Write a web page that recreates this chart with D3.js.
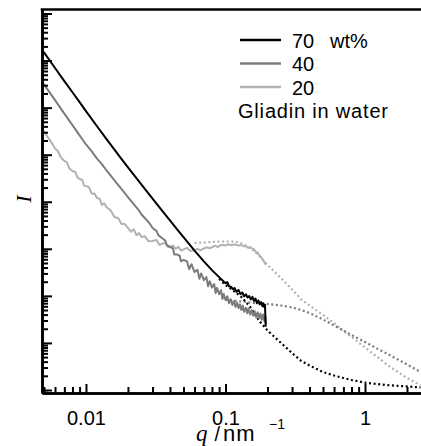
<!DOCTYPE html>
<html>
<head>
<meta charset="utf-8">
<script src="https://cdn.jsdelivr.net/npm/d3@7/dist/d3.min.js"></script>
<style>
  body { margin: 0; background: #fff; }
  text { font-family: "Liberation Sans", Arial, sans-serif; }
</style>
</head>
<body>
<svg width="421" height="446"></svg>
<script>
// scattering curves: [q in nm^-1, I in arbitrary units]
var solid70 = [[0.0049,1.55e7],[0.005,1.49e7],[0.006,6.95e6],[0.007,3.65e6],[0.008,2.12e6],[0.009,1.31e6],
  [0.01,8.41e5],[0.012,4.02e5],[0.014,2.17e5],[0.016,1.28e5],[0.018,8.07e4],[0.02,5.38e4],[0.025,2.31e4],
  [0.03,1.16e4],[0.035,6.58e3],[0.04,4.01e3],[0.045,2.60e3],[0.05,1.77e3],[0.06,918],[0.07,540],[0.08,352],
  [0.09,250],[0.1,186],[0.103,196],[0.106,160],[0.11,154],[0.113,138],[0.116,147],[0.12,122],[0.124,134],
  [0.128,109],[0.132,118],[0.136,98],[0.14,108],[0.144,92],[0.148,99],[0.152,84],[0.156,95],[0.16,78],
  [0.164,88],[0.168,70],[0.172,80],[0.176,66],[0.18,74],[0.184,60],[0.187,70],[0.19,57],[0.192,64],[0.194,22]];

var solid40 = [[0.0049,3.34e6],[0.005,3.12e6],[0.006,1.44e6],[0.007,7.47e5],[0.008,4.24e5],[0.009,2.58e5],
  [0.01,1.65e5],[0.011,1.18e5],[0.012,8.24e4],[0.013,6.3e4],[0.014,4.67e4],[0.016,2.84e4],[0.018,1.85e4],
  [0.02,1.26e4],[0.022,8.9e3],[0.024,6.5e3],[0.025,5.36e3],[0.027,4.2e3],[0.029,3.25e3],[0.03,2.77e3],
  [0.032,2.4e3],[0.033,1.95e3],[0.035,1.7e3],[0.037,1.5e3],[0.038,1.2e3],[0.04,1.1e3],[0.042,1.02e3],
  [0.043,760],[0.045,760],[0.047,710],[0.048,540],[0.05,580],[0.053,540],[0.055,370],[0.057,470],[0.06,320],
  [0.063,360],[0.065,230],[0.067,300],[0.07,215],[0.073,250],[0.075,160],[0.077,205],[0.08,150],[0.083,178],
  [0.085,115],[0.087,148],[0.09,108],[0.093,132],[0.095,86],[0.097,110],[0.1,82],[0.103,98],[0.106,70],
  [0.109,85],[0.112,64],[0.115,78],[0.118,58],[0.121,72],[0.124,55],[0.127,66],[0.13,50],[0.133,62],
  [0.136,46],[0.14,56],[0.143,43],[0.146,54],[0.15,40],[0.154,50],[0.158,38],[0.162,47],[0.166,35],
  [0.17,45],[0.174,33],[0.178,42],[0.182,31],[0.186,40],[0.19,29],[0.193,37],[0.196,25]];

var solid20 = [[0.0049,3.35e5],[0.005,3.11e5],[0.0052,2.6e5],[0.0055,2.05e5],[0.0058,1.62e5],[0.006,1.36e5],
  [0.0063,1.18e5],[0.0066,8.8e4],[0.007,7.35e4],[0.0073,6.9e4],[0.0076,5.1e4],[0.008,4.5e4],[0.0084,4.3e4],
  [0.0087,3.25e4],[0.009,3.05e4],[0.0094,2.9e4],[0.0097,2.2e4],[0.01,2.16e4],[0.0105,2.05e4],[0.011,1.48e4],
  [0.0115,1.5e4],[0.012,1.2e4],[0.0125,1.16e4],[0.013,8.6e3],[0.0135,9.3e3],[0.014,7.74e3],[0.015,6.6e3],
  [0.016,4.74e3],[0.017,4.5e3],[0.018,3.37e3],[0.019,3.35e3],[0.02,2.77e3],[0.021,2.3e3],[0.022,2.6e3],
  [0.023,1.95e3],[0.024,2.15e3],[0.025,1.78e3],[0.0265,1.85e3],[0.028,1.45e3],[0.03,1.47e3],[0.032,1.55e3],
  [0.0335,1.22e3],[0.035,1.27e3],[0.037,1.35e3],[0.0385,1.1e3],[0.04,1.09e3],[0.042,1.18e3],[0.044,1.0e3],
  [0.046,1.1e3],[0.048,920],[0.05,968],[0.053,1.05e3],[0.056,900],[0.06,944],[0.063,1.0e3],[0.066,930],
  [0.07,1.02e3],[0.074,1.08e3],[0.077,1.02e3],[0.08,1.09e3],[0.085,1.16e3],[0.088,1.08e3],[0.09,1.15e3],
  [0.095,1.22e3],[0.1,1.18e3],[0.105,1.25e3],[0.11,1.19e3],[0.115,1.24e3],[0.12,1.2e3],[0.125,1.17e3],
  [0.13,1.21e3],[0.135,1.13e3],[0.14,1.15e3],[0.145,1.05e3],[0.15,1.07e3],[0.155,1.02e3],[0.16,968],
  [0.165,860],[0.17,835],[0.175,720],[0.18,670],[0.185,590],[0.19,525],[0.195,453]];

// dotted curves (fits) at higher q
var dotted70 = [[0.09,229],[0.1,170],[0.11,140],[0.12,115],[0.13,94.6],[0.14,74.1],[0.15,58.1],[0.16,43.3],
  [0.17,33.1],[0.18,26.5],[0.2,18.4],[0.25,9.97],[0.3,6.11],[0.35,4.13],[0.4,3.32],[0.5,2.41],[0.6,2.03],
  [0.7,1.80],[0.8,1.63],[1.0,1.43],[1.2,1.34],[1.5,1.26],[2.0,1.19],[2.5,1.13]];
var dotted40 = [[0.1,81.7],[0.12,77.8],[0.14,74.1],[0.16,70.6],[0.2,67.2],[0.25,62.5],[0.3,56.7],[0.35,50.1],
  [0.4,43.3],[0.5,31.5],[0.6,23.5],[0.7,18.4],[0.8,14.7],[1.0,10.5],[1.2,7.8],[1.5,5.55],[2.0,3.48],[2.5,2.41]];
var dotted20 = [[0.06,1.33e3],[0.07,1.36e3],[0.08,1.40e3],[0.09,1.43e3],[0.1,1.43e3],[0.11,1.43e3],[0.12,1.40e3],
  [0.13,1.30e3],[0.14,1.18e3],[0.15,1.07e3],[0.16,899],[0.18,638],[0.2,453],[0.25,240],[0.3,137],[0.35,83.7],
  [0.4,62.5],[0.5,39.3],[0.6,26.5],[0.7,17.9],[0.8,13.4],[1.0,8.0],[1.2,5.28],[1.5,3.16],[2.0,1.80],[2.5,1.26]];

var qMajor = [0.01, 0.1, 1];
var qMajorLabels = ['0.01', '0.1', '1'];
var iMajor = [1, 1e1, 1e2, 1e3, 1e4, 1e5, 1e6, 1e7, 1e8];
var legendLabels = ['70', '40', '20'];
var legendUnit = 'wt%';
var legendTitle = 'Gliadin in water';

var svg = d3.select('svg'),
    plotL = 42, plotR = 421, plotT = 9.5, plotB = 393;

var x = d3.scaleLog().domain([0.00484, 2.52]).range([plotL, plotR]);
var y = d3.scaleLog().domain([Math.pow(10, -0.064), Math.pow(10, 8.085)]).range([plotB, plotT]);

var colors = ['#000000', '#7c7c7c', '#b2b2b2'];

svg.append('clipPath').attr('id', 'plot')
  .append('rect').attr('x', plotL).attr('y', plotT).attr('width', plotR - plotL).attr('height', plotB - plotT);

var line = d3.line()
  .x(function(d) { return x(d[0]); })
  .y(function(d) { return y(d[1]); });

var g = svg.append('g').attr('clip-path', 'url(#plot)');

// dotted curves underneath, light first
[[dotted20, colors[2]], [dotted40, colors[1]], [dotted70, colors[0]]].forEach(function(s) {
  g.append('path').datum(s[0])
    .attr('d', line)
    .attr('fill', 'none')
    .attr('stroke', s[1])
    .attr('stroke-width', 2.2)
    .attr('stroke-dasharray', '2,2.6');
});

[[solid20, colors[2]], [solid40, colors[1]], [solid70, colors[0]]].forEach(function(s) {
  g.append('path').datum(s[0])
    .attr('d', line)
    .attr('fill', 'none')
    .attr('stroke', s[1])
    .attr('stroke-width', 2)
    .attr('stroke-linejoin', 'round');
});

// axes: minor ticks first, then majors
var xMinor = x.ticks().filter(function(v) { return qMajor.indexOf(+v.toPrecision(3)) < 0; });
var yMinor = y.ticks().filter(function(v) { return iMajor.indexOf(+v.toPrecision(3)) < 0; });

svg.append('g')
  .attr('transform', 'translate(0,' + plotB + ')')
  .call(d3.axisBottom(x).tickValues(xMinor).tickSize(-6).tickSizeOuter(0).tickFormat(''));
svg.append('g')
  .attr('class', 'xmaj')
  .attr('transform', 'translate(0,' + plotB + ')')
  .call(d3.axisBottom(x).tickValues(qMajor).tickSize(-9).tickSizeOuter(0)
    .tickFormat(function(d, i) { return qMajorLabels[i]; }));

svg.append('g')
  .attr('transform', 'translate(' + plotL + ',0)')
  .call(d3.axisLeft(y).tickValues(yMinor).tickSize(-6).tickSizeOuter(0).tickFormat(''));
svg.append('g')
  .attr('transform', 'translate(' + plotL + ',0)')
  .call(d3.axisLeft(y).tickValues(iMajor).tickSize(-10).tickSizeOuter(0).tickFormat(''));

svg.selectAll('.domain').attr('stroke', '#000').attr('stroke-width', 2.6);
svg.selectAll('.tick line').attr('stroke', '#000').attr('stroke-width', 2);
svg.selectAll('.xmaj .tick text')
  .attr('y', 32).attr('dy', 0)
  .style('font-size', '20px').attr('fill', '#000');

// top frame line
svg.append('line')
  .attr('x1', plotL - 1.3).attr('x2', plotR)
  .attr('y1', plotT).attr('y2', plotT)
  .attr('stroke', '#000').attr('stroke-width', 2.4);

// axis titles
svg.append('text')
  .attr('transform', 'translate(31,199) rotate(-90)')
  .attr('text-anchor', 'middle')
  .style('font-family', '"Liberation Serif", "Times New Roman", serif')
  .style('font-style', 'italic')
  .style('font-size', '22px')
  .text('I');

var xt = svg.append('text').attr('x', 196).attr('y', 441).style('font-size', '22px');
xt.append('tspan')
  .style('font-family', '"Liberation Serif", "Times New Roman", serif')
  .style('font-style', 'italic').style('font-size', '23px')
  .text('q');
xt.append('tspan').attr('dx', 7).style('font-size', '20px').text('/');
xt.append('tspan').attr('dx', 3).style('letter-spacing', '1px').text('nm');
svg.append('text').attr('x', 269).attr('y', 429).style('font-size', '14px').text('\u22121');

// legend
var legend = svg.append('g');
var rowY = [40, 63.5, 87];
legendLabels.forEach(function(lab, i) {
  legend.append('line')
    .attr('x1', 240).attr('x2', 281)
    .attr('y1', rowY[i]).attr('y2', rowY[i])
    .attr('stroke', colors[i]).attr('stroke-width', 2.6);
  legend.append('text')
    .attr('x', 292).attr('y', rowY[i] + 7.5)
    .style('font-size', '20px')
    .text(lab);
});
legend.append('text').attr('x', 330).attr('y', rowY[0] + 7.5).style('font-size', '20px').text(legendUnit);
legend.append('text').attr('x', 238).attr('y', 118).style('font-size', '20px')
  .attr('textLength', 150).attr('lengthAdjust', 'spacing')
  .text(legendTitle);
</script>
</body>
</html>
